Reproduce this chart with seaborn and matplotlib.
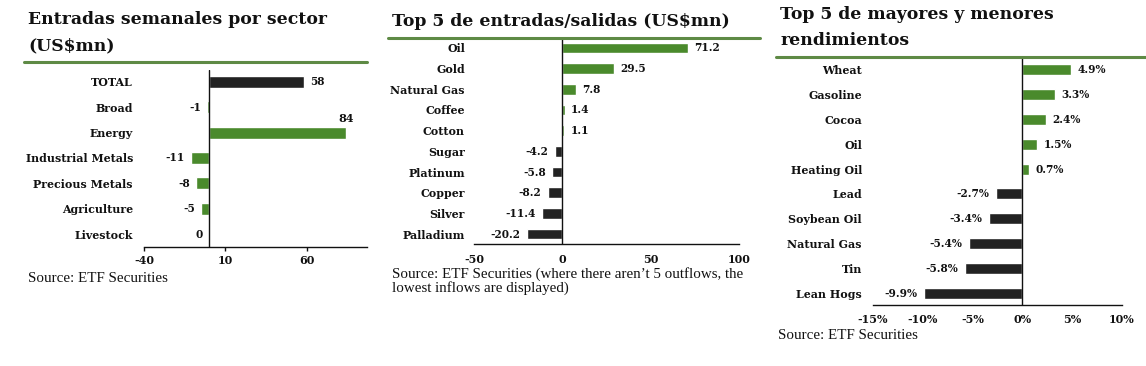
import matplotlib
matplotlib.use("Agg")
import matplotlib.pyplot as plt
import seaborn as sns
from matplotlib.lines import Line2D

sns.set_theme(style="white")
plt.rcParams['font.family'] = ['DejaVu Serif']
plt.rcParams['text.color'] = '#1a1a1a'

# ---------------- data ----------------
sector_cats = ["TOTAL", "Broad", "Energy", "Industrial Metals", "Precious Metals", "Agriculture", "Livestock"]
sector_vals = [58, -1, 84, -11, -8, -5, 0]

flow_cats = ["Oil", "Gold", "Natural Gas", "Coffee", "Cotton", "Sugar", "Platinum", "Copper", "Silver", "Palladium"]
flow_vals = [71.2, 29.5, 7.8, 1.4, 1.1, -4.2, -5.8, -8.2, -11.4, -20.2]

perf_cats = ["Wheat", "Gasoline", "Cocoa", "Oil", "Heating Oil", "Lead", "Soybean Oil", "Natural Gas", "Tin", "Lean Hogs"]
perf_vals = [4.9, 3.3, 2.4, 1.5, 0.7, -2.7, -3.4, -5.4, -5.8, -9.9]

titles = ["Entradas semanales por sector\n(US$mn)",
          "Top 5 de entradas/salidas (US$mn)",
          "Top 5 de mayores y menores\nrendimientos"]
sources = ["Source: ETF Securities",
           "Source: ETF Securities (where there aren\u2019t 5 outflows, the\nlowest inflows are displayed)",
           "Source: ETF Securities"]

GREEN = "#4a8a2c"
BLACK = "#222222"
LINE_GREEN = "#5e8a45"
TXT = "#111111"

W, H = 1146, 366
fig = plt.figure(figsize=(W / 100, H / 100), dpi=100)
fig.patch.set_facecolor("white")


def rect(l, t, r, b):
    return [l / W, 1 - b / H, (r - l) / W, (b - t) / H]


def draw(ax, cats, vals, colors, xlim, xticks, xticklabels, ylim_pad, fmt, tickmarks,
         barw, ypad, xpad, above=None):
    pal = dict(zip(cats, colors))
    sns.barplot(x=vals, y=cats, hue=cats, palette=pal, legend=False, orient="h",
                width=barw, ax=ax, saturation=1)
    n = len(cats)
    ax.set_xlim(*xlim)
    ax.set_ylim(n - 1 + ylim_pad[1], -ylim_pad[0])
    ax.set_xticks(xticks, labels=xticklabels)
    ax.set_xlabel("")
    ax.set_ylabel("")
    for s in ["top", "right", "left"]:
        ax.spines[s].set_visible(False)
    ax.spines["bottom"].set_color(TXT)
    ax.spines["bottom"].set_linewidth(1.0)
    ax.axvline(0, color=TXT, lw=1.0)
    ax.tick_params(axis="y", length=0, pad=ypad, labelsize=7.9, colors=TXT)
    if tickmarks:
        ax.tick_params(axis="x", length=3, width=1, direction="out", pad=xpad,
                       labelsize=8.0, colors=TXT, bottom=True)
    else:
        ax.tick_params(axis="x", length=0, pad=xpad, labelsize=8.0, colors=TXT)
    for lb in ax.get_yticklabels() + ax.get_xticklabels():
        lb.set_fontweight("bold")
    for i, v in enumerate(vals):
        s = fmt(v)
        if above is not None and i == above:
            ax.annotate(s, (v, i), xytext=(0, 10.5), textcoords="offset points",
                        ha="center", va="center", fontsize=8.0, fontweight="bold", color=TXT)
        elif v > 0:
            ax.annotate(s, (v, i), xytext=(4.5, 0), textcoords="offset points",
                        ha="left", va="center", fontsize=7.6, fontweight="bold", color=TXT)
        else:
            ax.annotate(s, (v, i), xytext=(-4.5, 0), textcoords="offset points",
                        ha="right", va="center", fontsize=7.6, fontweight="bold", color=TXT)
    ax.set_facecolor("white")


# Panel 1
ax1 = fig.add_axes(rect(144, 70, 367, 247))
c1 = [BLACK] + [GREEN] * (len(sector_cats) - 1)
draw(ax1, sector_cats, sector_vals, c1, (-40, 97), [-40, 10, 60], ["-40", "10", "60"],
     (0.47, 0.51), lambda v: f"{v:g}", True, 0.47, 8, 3, above=2)

# Panel 2
ax2 = fig.add_axes(rect(474, 39, 739, 244))
c2 = [GREEN if v > 0 else BLACK for v in flow_vals]
draw(ax2, flow_cats, flow_vals, c2, (-50, 100), [-50, 0, 50, 100], ["-50", "0", "50", "100"],
     (0.43, 0.48), lambda v: f"{v:.1f}", False, 0.52, 6.5, 7)

# Panel 3
ax3 = fig.add_axes(rect(873, 57, 1122, 305))
c3 = [GREEN if v > 0 else BLACK for v in perf_vals]
draw(ax3, perf_cats, perf_vals, c3, (-15, 10), [-15, -10, -5, 0, 5, 10],
     ["-15%", "-10%", "-5%", "0%", "5%", "10%"],
     (0.52, 0.48), lambda v: f"{v:.1f}%", False, 0.44, 8, 6.5)

# Titles, underlines, sources
title_pos = [(28, 11), (392, 13), (780, 6)]
for (x, y), t in zip(title_pos, titles):
    fig.text(x / W, 1 - y / H, t, ha="left", va="top", fontsize=12.4, fontweight="bold",
             color=TXT, linespacing=1.7)

lines = [(24, 367, 62), (388, 760, 38), (776, 1146, 57)]
for x0, x1, y in lines:
    fig.add_artist(Line2D([x0 / W, x1 / W], [1 - y / H, 1 - y / H], color=LINE_GREEN, lw=2.2))

src_pos = [(28, 272), (392, 267), (778, 329)]
for (x, y), s in zip(src_pos, sources):
    fig.text(x / W, 1 - y / H, s, ha="left", va="top", fontsize=10.8, fontweight="normal",
             color=TXT, family="Liberation Serif", linespacing=0.98)

fig.savefig("out.png", dpi=100, facecolor="white")
